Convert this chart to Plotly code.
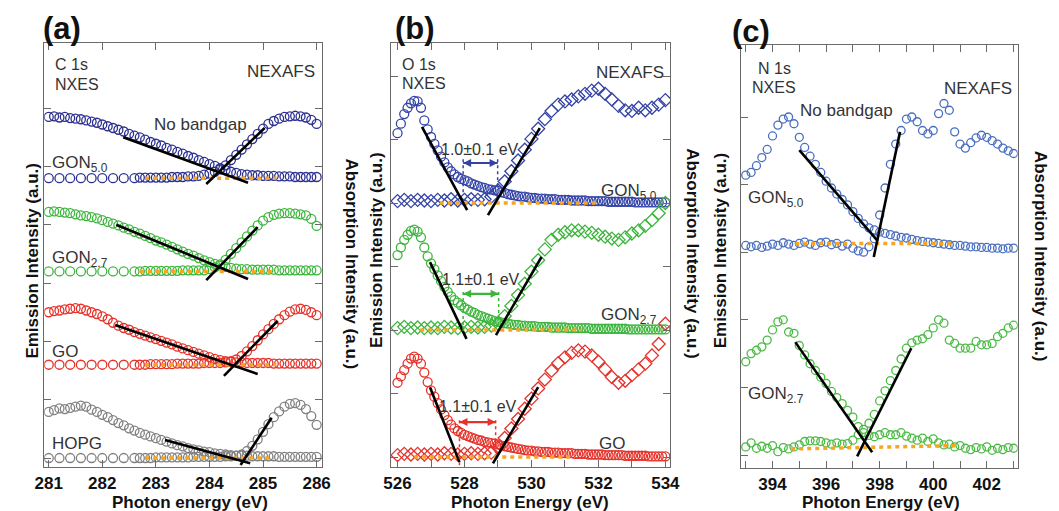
import plotly.graph_objects as go

W, H = 1059, 511
FONT = "Liberation Sans, Arial, Helvetica, sans-serif"
TXT = "#333333"
AXC = "#6a6a6a"
ORANGE = "#f5a623"

# ================= panel (a): C 1s =================
XA_EM = [281.0, 281.1, 281.2, 281.3, 281.4, 281.5, 281.6, 281.7, 281.8, 281.9,
         282.0, 282.1, 282.2, 282.3, 282.4, 282.5, 282.6, 282.7, 282.8, 282.9,
         283.0, 283.1, 283.2, 283.3, 283.4, 283.5, 283.6, 283.7, 283.8, 283.9,
         284.0, 284.1, 284.2, 284.3, 284.4, 284.5, 284.6, 284.7, 284.8, 284.9,
         285.0, 285.1, 285.2, 285.3, 285.4, 285.5, 285.6, 285.7, 285.8, 285.9, 286.0]
XA_AB = [281.0, 281.2, 281.4, 281.6, 281.8, 282.0, 282.2, 282.4, 282.6,
         282.7, 282.8, 282.9, 283.0, 283.1, 283.2, 283.3, 283.4, 283.5, 283.6,
         283.7, 283.8, 283.9, 284.0, 284.1, 284.2, 284.3, 284.4, 284.5, 284.6,
         284.7, 284.8, 284.9, 285.0, 285.1, 285.2, 285.3, 285.4, 285.5, 285.6,
         285.7, 285.8, 285.9, 286.0]

GON50_A_EM = [1.05, 1.06, 1.04, 1.05, 1.03, 1.02, 1.01, 0.99, 0.97, 0.95,
              0.92, 0.89, 0.86, 0.83, 0.80, 0.76, 0.73, 0.70, 0.66, 0.62,
              0.59, 0.56, 0.52, 0.49, 0.45, 0.42, 0.38, 0.35, 0.31, 0.28,
              0.24, 0.21, 0.17, 0.14, 0.11, 0.09, 0.07, 0.06, 0.05, 0.05,
              0.04, 0.04, 0.04, 0.03, 0.03, 0.03, 0.02, 0.02, 0.02, 0.02, 0.02]
GON50_A_AB = [0, 0, 0, 0, 0, 0, 0, 0, 0,
              0.01, 0.01, 0.01, 0.01, 0.01, 0.01, 0.02, 0.02, 0.02, 0.03,
              0.03, 0.04, 0.06, 0.08, 0.11, 0.15, 0.22, 0.31, 0.40, 0.49,
              0.58, 0.67, 0.76, 0.85, 0.93, 0.98, 1.02, 1.05, 1.06, 1.07,
              1.06, 1.04, 1.00, 0.93]

GON27_A_EM = [1.02, 1.03, 1.02, 1.01, 1.00, 0.98, 0.96, 0.95, 0.93, 0.91,
              0.88, 0.85, 0.82, 0.79, 0.75, 0.72, 0.68, 0.65, 0.61, 0.57,
              0.53, 0.50, 0.46, 0.42, 0.38, 0.34, 0.30, 0.27, 0.23, 0.19,
              0.16, 0.13, 0.10, 0.08, 0.06, 0.05, 0.04, 0.04, 0.03, 0.03,
              0.03, 0.03, 0.03, 0.02, 0.02, 0.02, 0.02, 0.02, 0.02, 0.02, 0.02]
GON27_A_AB = [0, 0, 0, 0, 0, 0, 0, 0, 0,
              0.00, 0.01, 0.01, 0.01, 0.01, 0.01, 0.01, 0.01, 0.02, 0.02,
              0.02, 0.02, 0.02, 0.04, 0.07, 0.12, 0.20, 0.30, 0.40, 0.50,
              0.60, 0.70, 0.79, 0.87, 0.93, 0.97, 0.99, 1.00, 1.00, 0.99,
              0.98, 0.96, 0.90, 0.78]

GO_A_EM = [0.90, 0.92, 0.93, 0.95, 0.96, 0.97, 0.96, 0.93, 0.90, 0.87,
           0.83, 0.78, 0.72, 0.67, 0.63, 0.60, 0.56, 0.53, 0.50, 0.47,
           0.44, 0.41, 0.38, 0.35, 0.31, 0.28, 0.25, 0.22, 0.19, 0.16,
           0.13, 0.10, 0.08, 0.06, 0.05, 0.04, 0.04, 0.03, 0.03, 0.03,
           0.03, 0.03, 0.02, 0.02, 0.02, 0.02, 0.02, 0.02, 0.02, 0.02, 0.02]
GO_A_AB = [0, 0, 0, 0, 0, 0, 0, 0, 0,
           0.00, 0.00, 0.01, 0.01, 0.01, 0.01, 0.01, 0.02, 0.02, 0.02,
           0.02, 0.02, 0.03, 0.03, 0.03, 0.03, 0.04, 0.06, 0.09, 0.15,
           0.23, 0.32, 0.42, 0.52, 0.61, 0.70, 0.78, 0.85, 0.91, 0.95,
           0.96, 0.94, 0.90, 0.85]

HOPG_A_EM = [0.79, 0.82, 0.85, 0.84, 0.86, 0.88, 0.90, 0.88, 0.83, 0.79,
             0.74, 0.70, 0.65, 0.60, 0.56, 0.51, 0.47, 0.43, 0.40, 0.37,
             0.34, 0.31, 0.28, 0.25, 0.22, 0.20, 0.17, 0.15, 0.13, 0.11,
             0.10, 0.08, 0.07, 0.06, 0.05, 0.04, 0.04, 0.04, 0.03, 0.03,
             0.03, 0.03, 0.03, 0.02, 0.02, 0.02, 0.02, 0.02, 0.02, 0.02, 0.02]
HOPG_A_AB = [0, 0, 0, 0, 0, 0, 0, 0, 0,
             0.00, 0.00, 0.00, 0.01, 0.01, 0.01, 0.01, 0.01, 0.01, 0.01,
             0.02, 0.02, 0.02, 0.02, 0.02, 0.02, 0.03, 0.03, 0.04, 0.06,
             0.12, 0.21, 0.32, 0.45, 0.58, 0.70, 0.80, 0.88, 0.93, 0.94,
             0.91, 0.84, 0.72, 0.57]

A_NAMES = ["GON<sub>5.0</sub>", "GON<sub>2.7</sub>", "GO", "HOPG"]
A_OFFSETS = [4.8, 3.2, 1.6, 0.0]
A_COLORS = ["#2b2f8f", "#3cb53c", "#e5322a", "#808080"]
A_EM = [GON50_A_EM, GON27_A_EM, GO_A_EM, HOPG_A_EM]
A_AB = [GON50_A_AB, GON27_A_AB, GO_A_AB, HOPG_A_AB]
# fit lines (x0, y0, x1, y1) in plot units
A_FIT_EM = [(282.39, 5.50, 284.72, 4.72), (282.26, 4.00, 284.72, 3.07),
            (282.24, 2.28, 284.90, 1.44), (283.17, 0.31, 284.76, -0.09)]
A_FIT_AB = [(283.94, 4.70, 285.03, 5.66), (283.94, 3.05, 284.90, 3.96),
            (284.27, 1.41, 285.27, 2.35), (284.58, -0.12, 285.16, 0.69)]
A_BASE_X = [(282.8, 285.25), (282.7, 285.2), (282.8, 285.25), (282.8, 285.2)]

# ================= panel (b): O 1s =================
XB_EM = [526.0, 526.1, 526.2, 526.3, 526.4, 526.5, 526.6, 526.7, 526.8, 526.9,
         527.0, 527.1, 527.2, 527.3, 527.4, 527.5, 527.6, 527.7, 527.8, 527.9,
         528.0, 528.1, 528.2, 528.3, 528.4, 528.5, 528.6, 528.7, 528.8, 528.9,
         529.0, 529.1, 529.2, 529.3, 529.4, 529.5, 529.6, 529.7, 529.8, 529.9,
         530.0, 530.1, 530.2, 530.3, 530.4, 530.5, 530.6, 530.7, 530.8, 530.9,
         531.0, 531.1, 531.2, 531.3, 531.4, 531.5, 531.6, 531.7, 531.8, 531.9,
         532.0, 532.1, 532.2, 532.3, 532.4, 532.5, 532.6, 532.7, 532.8, 532.9,
         533.0, 533.1, 533.2, 533.3, 533.4, 533.5, 533.6, 533.7, 533.8, 533.9, 534.0]
XB_AB = [526.0, 526.2, 526.4, 526.6, 526.8, 527.0, 527.2, 527.4, 527.6, 527.8,
         528.0, 528.2, 528.4, 528.6, 528.8, 529.0, 529.2, 529.4, 529.6, 529.8,
         530.0, 530.2, 530.4, 530.6, 530.8, 531.0, 531.2, 531.4, 531.6, 531.8,
         532.0, 532.2, 532.4, 532.6, 532.8, 533.0, 533.2, 533.4, 533.6, 533.8, 534.0]

GON50_B_EM = [1.10, 1.25, 1.40, 1.50, 1.57, 1.61, 1.60, 1.50, 1.30, 1.16,
              1.04, 0.93, 0.83, 0.73, 0.64, 0.56, 0.50, 0.45, 0.41, 0.38,
              0.36, 0.34, 0.31, 0.29, 0.27, 0.25, 0.24, 0.22, 0.21, 0.20,
              0.19, 0.17, 0.16, 0.14, 0.13, 0.12, 0.11, 0.10, 0.10, 0.09,
              0.08, 0.08, 0.07, 0.07, 0.07, 0.06, 0.06, 0.06, 0.05, 0.05,
              0.05, 0.05, 0.04, 0.04, 0.04, 0.04, 0.04, 0.03, 0.03, 0.03,
              0.03, 0.03, 0.03, 0.02, 0.02, 0.02, 0.02, 0.02, 0.02, 0.02,
              0.02, 0.01, 0.01, 0.01, 0.01, 0.01, 0.01, 0.01, 0.01, 0.01, 0.01]
GON50_B_AB = [0.03, 0.05, 0.03, 0.05, 0.04, 0.03, 0.05, 0.04, 0.06, 0.04,
              0.05, 0.06, 0.05, 0.06, 0.10, 0.20, 0.34, 0.50, 0.67, 0.84,
              1.01, 1.17, 1.32, 1.45, 1.55, 1.60, 1.63, 1.68, 1.72, 1.77,
              1.80, 1.72, 1.63, 1.53, 1.46, 1.45, 1.50, 1.46, 1.50, 1.55, 1.62]

GON27_B_EM = [1.18, 1.30, 1.42, 1.50, 1.56, 1.58, 1.55, 1.46, 1.30, 1.16,
              1.05, 0.96, 0.86, 0.77, 0.68, 0.60, 0.53, 0.47, 0.43, 0.39,
              0.35, 0.32, 0.29, 0.27, 0.24, 0.22, 0.20, 0.18, 0.16, 0.14,
              0.13, 0.12, 0.11, 0.10, 0.09, 0.08, 0.08, 0.07, 0.07, 0.06,
              0.06, 0.06, 0.05, 0.05, 0.05, 0.05, 0.04, 0.04, 0.04, 0.04,
              0.04, 0.03, 0.03, 0.03, 0.03, 0.03, 0.03, 0.03, 0.02, 0.02,
              0.02, 0.02, 0.02, 0.02, 0.02, 0.02, 0.02, 0.02, 0.02, 0.01,
              0.01, 0.01, 0.01, 0.01, 0.01, 0.01, 0.01, 0.01, 0.01, 0.01, 0.01]
GON27_B_AB = [0.03, 0.05, 0.03, 0.04, 0.03, 0.04, 0.03, 0.05, 0.04, 0.03,
              0.04, 0.05, 0.04, 0.05, 0.07, 0.10, 0.22, 0.38, 0.55, 0.73,
              0.92, 1.10, 1.27, 1.42, 1.50, 1.54, 1.57, 1.57, 1.55, 1.53,
              1.50, 1.47, 1.44, 1.42, 1.46, 1.52, 1.57, 1.64, 1.73, 1.84, 2.00]

GO_B_EM = [1.17, 1.27, 1.37, 1.47, 1.55, 1.58, 1.55, 1.47, 1.33, 1.18,
           1.05, 0.95, 0.85, 0.75, 0.66, 0.58, 0.51, 0.45, 0.41, 0.38,
           0.35, 0.33, 0.31, 0.29, 0.27, 0.26, 0.24, 0.23, 0.22, 0.21,
           0.20, 0.18, 0.17, 0.16, 0.15, 0.14, 0.13, 0.12, 0.11, 0.10,
           0.10, 0.09, 0.09, 0.08, 0.08, 0.08, 0.07, 0.07, 0.07, 0.06,
           0.06, 0.06, 0.06, 0.05, 0.05, 0.05, 0.05, 0.04, 0.04, 0.04,
           0.04, 0.04, 0.03, 0.03, 0.03, 0.03, 0.03, 0.03, 0.02, 0.02,
           0.02, 0.02, 0.02, 0.02, 0.02, 0.01, 0.01, 0.01, 0.01, 0.01, 0.01]
GO_B_AB = [0.03, 0.05, 0.04, 0.05, 0.04, 0.05, 0.04, 0.06, 0.05, 0.04,
           0.05, 0.06, 0.05, 0.06, 0.07, 0.15, 0.30, 0.45, 0.60, 0.76,
           0.92, 1.08, 1.22, 1.36, 1.48, 1.57, 1.64, 1.68, 1.66, 1.60,
           1.50, 1.38, 1.26, 1.17, 1.20, 1.29, 1.38, 1.47, 1.60, 1.78, 2.10]

B_NAMES = ["GON<sub>5.0</sub>", "GON<sub>2.7</sub>", "GO"]
B_OFFSETS = [4.0, 2.0, 0.0]
B_COLORS = ["#3444a6", "#3cb53c", "#e5322a"]
B_EM = [GON50_B_EM, GON27_B_EM, GO_B_EM]
B_AB = [GON50_B_AB, GON27_B_AB, GO_B_AB]
B_FIT_EM = [(526.73, 5.20, 528.08, 3.89), (526.97, 3.07, 528.06, 1.86),
            (526.97, 1.10, 527.85, -0.08)]
B_FIT_AB = [(528.70, 3.81, 530.25, 5.18), (528.94, 1.92, 530.30, 3.15),
            (528.85, -0.10, 530.20, 1.10)]
B_BASE_X = [(527.26, 532.0), (526.68, 531.5), (526.5, 531.2)]
B_GAP_TEXT = ["1.0±0.1 eV", "1.1±0.1 eV", "1.1±0.1 eV"]
B_GAP_X0 = [527.96, 527.96, 527.85]
B_GAP_X1 = [528.99, 529.02, 528.93]
B_ARROW_Y = [4.63, 2.57, 0.55]
B_DOT_TOP = [4.69, 2.60, 0.58]
B_DOT_BOT_L = [4.17, 1.95, -0.16]
B_DOT_BOT_R = [4.25, 2.05, 0.06]
B_GAP_TEXT_Y = [4.85, 2.80, 0.79]

# ================= panel (c): N 1s =================
XC = [393.0, 393.2, 393.4, 393.6, 393.8, 394.0, 394.2, 394.4, 394.6, 394.8,
      395.0, 395.2, 395.4, 395.6, 395.8, 396.0, 396.2, 396.4, 396.6, 396.8,
      397.0, 397.2, 397.4, 397.6, 397.8, 398.0, 398.2, 398.4, 398.6, 398.8,
      399.0, 399.2, 399.4, 399.6, 399.8, 400.0, 400.2, 400.4, 400.6, 400.8,
      401.0, 401.2, 401.4, 401.6, 401.8, 402.0, 402.2, 402.4, 402.6, 402.8, 403.0]

GON50_C_EM = [1.14, 1.18, 1.28, 1.40, 1.52, 1.72, 1.88, 1.97, 2.00, 1.90,
              1.70, 1.55, 1.42, 1.30, 1.18, 1.05, 0.95, 0.86, 0.78, 0.70,
              0.60, 0.50, 0.42, 0.36, 0.33, 0.30, 0.28, 0.26, 0.24, 0.22,
              0.21, 0.19, 0.17, 0.16, 0.15, 0.14, 0.13, 0.12, 0.11, 0.10,
              0.10, 0.09, 0.08, 0.08, 0.07, 0.07, 0.06, 0.06, 0.05, 0.06, 0.06]
GON50_C_AB = [0.10, 0.08, 0.10, 0.07, 0.09, 0.12, 0.10, 0.14, 0.12, 0.10,
              0.13, 0.15, 0.12, 0.10, 0.14, 0.15, 0.11, 0.13, 0.09, 0.12,
              0.06, 0.02, 0.00, 0.08, 0.20, 0.55, 0.95, 1.30, 1.60, 1.80,
              1.97, 2.00, 1.93, 1.80, 1.75, 1.80, 2.05, 2.20, 2.10, 1.78,
              1.60, 1.54, 1.62, 1.69, 1.73, 1.70, 1.65, 1.60, 1.54, 1.50, 1.46]
GON27_C_EM = [1.38, 1.50, 1.55, 1.60, 1.70, 1.85, 1.97, 2.00, 1.82, 1.80,
              1.62, 1.48, 1.35, 1.25, 1.15, 1.06, 0.94, 0.85, 0.76, 0.66,
              0.56, 0.42, 0.33, 0.29, 0.27, 0.30, 0.33, 0.30, 0.30, 0.33,
              0.28, 0.25, 0.22, 0.25, 0.20, 0.24, 0.18, 0.15, 0.16, 0.12,
              0.14, 0.10, 0.08, 0.11, 0.09, 0.12, 0.07, 0.10, 0.08, 0.11, 0.10]
GON27_C_AB = [0.12, 0.18, 0.10, 0.13, 0.10, 0.14, 0.05, 0.11, 0.09, 0.12,
              0.15, 0.20, 0.21, 0.21, 0.20, 0.18, 0.16, 0.18, 0.16, 0.17,
              0.22, 0.30, 0.38, 0.47, 0.60, 0.80, 0.95, 1.10, 1.25, 1.42,
              1.58, 1.66, 1.70, 1.72, 1.78, 1.88, 2.00, 1.95, 1.70, 1.65,
              1.58, 1.58, 1.58, 1.68, 1.63, 1.63, 1.65, 1.75, 1.80, 1.88, 1.92]

C_NAMES = ["GON<sub>5.0</sub>", "GON<sub>2.7</sub>"]
C_OFFSETS = [3.0, 0.0]
C_COLORS = ["#4a6fc0", "#4cbb45"]
C_EM = [GON50_C_EM, GON27_C_EM]
C_AB = [GON50_C_AB, GON27_C_AB]
C_FIT_EM = [(395.00, 4.51, 397.90, 3.18), (394.85, 1.67, 397.72, 0.04)]
C_FIT_AB = [(397.78, 2.93, 398.76, 4.78), (397.16, -0.02, 399.18, 1.58)]
C_BASE = [(394.85, 3.13, 400.73, 3.13), (394.7, 0.09, 400.95, 0.14)]

# ================= build figure =================
fig = go.Figure()


def px(x):
    return x / W


def py(y):
    return 1 - y / H


def markers(x, rel, off, color, symbol, size, xa, ya, lw=1.3):
    fig.add_trace(go.Scatter(
        x=x, y=[v + off for v in rel], mode="markers",
        marker=dict(symbol=symbol, size=size, color=color,
                    line=dict(width=lw, color=color)),
        xaxis=xa, yaxis=ya, showlegend=False, hoverinfo="skip"))


def seg(x0, y0, x1, y1, xa, ya, color="black", width=2.6, dash="solid"):
    fig.add_trace(go.Scatter(
        x=[x0, x1], y=[y0, y1], mode="lines",
        line=dict(color=color, width=width, dash=dash),
        xaxis=xa, yaxis=ya, showlegend=False, hoverinfo="skip"))


BASE_DASH = "4px,4px"

# panel a
for i in range(4):
    markers(XA_AB, A_AB[i], A_OFFSETS[i], A_COLORS[i], "circle-open", 9, "x", "y")
    markers(XA_EM, A_EM[i], A_OFFSETS[i], A_COLORS[i], "circle-open", 9, "x", "y")
for i in range(4):
    seg(A_BASE_X[i][0], A_OFFSETS[i], A_BASE_X[i][1], A_OFFSETS[i], "x", "y",
        color=ORANGE, width=3.5, dash=BASE_DASH)
    seg(*A_FIT_EM[i], "x", "y")
    seg(*A_FIT_AB[i], "x", "y")

# panel b
for i in range(3):
    markers(XB_EM, B_EM[i], B_OFFSETS[i], B_COLORS[i], "circle-open", 9, "x2", "y2")
    markers(XB_AB, B_AB[i], B_OFFSETS[i], B_COLORS[i], "diamond-open", 10, "x2", "y2")
for i in range(3):
    seg(B_BASE_X[i][0], B_OFFSETS[i], B_BASE_X[i][1], B_OFFSETS[i], "x2", "y2",
        color=ORANGE, width=3.5, dash=BASE_DASH)
    seg(*B_FIT_EM[i], "x2", "y2")
    seg(*B_FIT_AB[i], "x2", "y2")
    seg(B_GAP_X0[i], B_DOT_TOP[i], B_GAP_X0[i], B_DOT_BOT_L[i], "x2", "y2",
        color=B_COLORS[i], width=1.5, dash="dot")
    seg(B_GAP_X1[i], B_DOT_TOP[i], B_GAP_X1[i], B_DOT_BOT_R[i], "x2", "y2",
        color=B_COLORS[i], width=1.5, dash="dot")
    # double-headed gap arrow
    seg(B_GAP_X0[i], B_ARROW_Y[i], B_GAP_X1[i], B_ARROW_Y[i], "x2", "y2",
        color=B_COLORS[i], width=2.2)
    fig.add_trace(go.Scatter(
        x=[B_GAP_X0[i], B_GAP_X1[i]], y=[B_ARROW_Y[i], B_ARROW_Y[i]],
        mode="markers", xaxis="x2", yaxis="y2", showlegend=False, hoverinfo="skip",
        marker=dict(symbol=["arrow-left", "arrow-right"], size=8,
                    color=B_COLORS[i], line=dict(width=0))))

# panel c
for i in range(2):
    markers(XC, C_EM[i], C_OFFSETS[i], C_COLORS[i], "circle-open", 8, "x3", "y3")
    markers(XC, C_AB[i], C_OFFSETS[i], C_COLORS[i], "circle-open", 8, "x3", "y3")
for i in range(2):
    seg(*C_BASE[i], "x3", "y3", color=ORANGE, width=3.5, dash=BASE_DASH)
    seg(*C_FIT_EM[i], "x3", "y3")
    seg(*C_FIT_AB[i], "x3", "y3")

# ----- axes -----
tickfont = dict(family=FONT, size=17, color="#111111", weight="bold")
minor_style = dict(ticks="inside", ticklen=7, tickwidth=1.2, tickcolor=AXC)
xcommon = dict(showline=True, linecolor=AXC, linewidth=1.3, mirror="allticks",
               ticks="inside", ticklen=7, tickwidth=1.2, tickcolor=AXC,
               showgrid=False, zeroline=False, tickfont=tickfont,
               tickmode="array")
ycommon = dict(showline=True, linecolor=AXC, linewidth=1.3, mirror="ticks",
               ticks="inside", ticklen=7, tickwidth=1.2, tickcolor=AXC,
               showgrid=False, zeroline=False, showticklabels=False,
               tickmode="array")

XA_TICKS = [281, 282, 283, 284, 285, 286]
XB_TICKS = [526, 528, 530, 532, 534]
XB_MINOR = [527, 529, 531, 533]
XC_TICKS = [394, 396, 398, 400, 402]
XC_MINOR = [393, 395, 397, 399, 401, 403]

fig.update_layout(
    width=W, height=H, margin=dict(l=0, r=0, t=0, b=0),
    paper_bgcolor="white", plot_bgcolor="white",
    font=dict(family=FONT, color=TXT),
    xaxis=dict(xcommon, domain=[px(35), px(318)], range=[280.918, 286.10],
               tickvals=XA_TICKS, ticktext=[str(t) for t in XA_TICKS], anchor="y"),
    yaxis=dict(ycommon, domain=[py(467), py(43)], range=[-0.154, 7.118],
               tickvals=[0, 1, 2, 3, 4, 5, 6], anchor="x"),
    xaxis2=dict(xcommon, domain=[px(388), px(673)], range=[525.795, 534.147],
                tickvals=XB_TICKS, ticktext=[str(t) for t in XB_TICKS],
                minor=dict(minor_style, tickvals=XB_MINOR), anchor="y2"),
    yaxis2=dict(ycommon, domain=[py(467), py(43)], range=[-0.157, 6.52],
                tickvals=[0, 1, 2, 3, 4, 5, 6], anchor="x2"),
    xaxis3=dict(xcommon, domain=[px(745), px(1027)], range=[392.82, 403.15],
                tickvals=XC_TICKS, ticktext=[str(t) for t in XC_TICKS],
                minor=dict(minor_style, tickvals=XC_MINOR), anchor="y3"),
    yaxis3=dict(ycommon, domain=[py(468), py(45)], range=[-0.192, 6.065],
                tickvals=[0, 1, 2, 3, 4, 5], anchor="x3", mirror=True),
    yaxis4=dict(ycommon, domain=[py(468), py(45)], range=[-0.192, 6.065],
                tickvals=[0, 1, 2, 3, 4, 5], anchor="x3", overlaying="y3",
                side="right", ticks="outside", mirror=False, showline=False),
)

# ----- annotations -----
ann = []


def text(x, y, s, size=17, xanchor="center", yanchor="middle", angle=0,
         color=TXT, bold=False):
    ann.append(dict(x=px(x), y=py(y), xref="paper", yref="paper",
                    text=f"<b>{s}</b>" if bold else s, showarrow=False,
                    xanchor=xanchor, yanchor=yanchor, textangle=angle,
                    font=dict(family=FONT, size=size, color=color)))


# panel letters
text(53, 29, "(a)", size=31, bold=True, color="#111111")
text(413, 29, "(b)", size=31, bold=True, color="#111111")
text(755, 31, "(c)", size=31, bold=True, color="#111111")

# axis titles
text(183, 502, "Photon energy (eV)", size=17, bold=True, color="#111111")
text(530, 502, "Photon Energy (eV)", size=17, bold=True, color="#111111")
text(888, 502, "Photon Energy (eV)", size=17, bold=True, color="#111111")
text(22, 261, "Emission Intensity (a.u.)", size=17, bold=True, angle=-90, color="#111111")
text(349, 264, "Absorption Intensity (a.u.)", size=17, bold=True, angle=90, color="#111111")
text(373, 250, "Emission Intensity (a.u.)", size=17, bold=True, angle=-90, color="#111111")
text(696, 254, "Absorption Intensity (a.u.)", size=17, bold=True, angle=90, color="#111111")
text(724, 250, "Emission Intensity (a.u.)", size=17, bold=True, angle=-90, color="#111111")
text(1051, 256, "Absorption Intensity (a.u.)", size=17, bold=True, angle=90, color="#111111")

# panel a texts
text(44, 65, "C 1s", size=16, xanchor="left")
text(44, 84, "NXES", size=16, xanchor="left")
text(276, 71, "NEXAFS")
text(194, 125, "No bandgap")
A_LABEL_Y = [164, 259, 351, 443]
for name, yy in zip(A_NAMES, A_LABEL_Y):
    text(41, yy, name, xanchor="left")

# panel b texts
text(397, 64, "O 1s", size=16, xanchor="left")
text(397, 83, "NXES", size=16, xanchor="left")
text(632, 72, "NEXAFS")
B_LABEL_X = [661, 661, 629]
B_LABEL_Y = [192, 316, 443]
for name, xx, yy in zip(B_NAMES, B_LABEL_X, B_LABEL_Y):
    text(xx, yy, name, xanchor="right")

for i in range(3):
    ann.append(dict(x=(B_GAP_X0[i] + B_GAP_X1[i]) / 2, y=B_GAP_TEXT_Y[i],
                    xref="x2", yref="y2", text=B_GAP_TEXT[i], showarrow=False,
                    font=dict(family=FONT, size=16, color=TXT)))

# panel c texts
text(779, 68, "N 1s", size=16)
text(779, 87, "NXES", size=16)
text(987, 88, "NEXAFS")
text(853, 110, "No bandgap")
C_LABEL_Y = [199, 395]
for name, yy in zip(C_NAMES, C_LABEL_Y):
    text(750, yy, name, xanchor="left")

fig.update_layout(annotations=ann)
fig.write_html("out.html",
               config={"displayModeBar": False},
               post_script="document.body.style.margin='0px';"
                           "document.body.style.overflow='hidden';")
